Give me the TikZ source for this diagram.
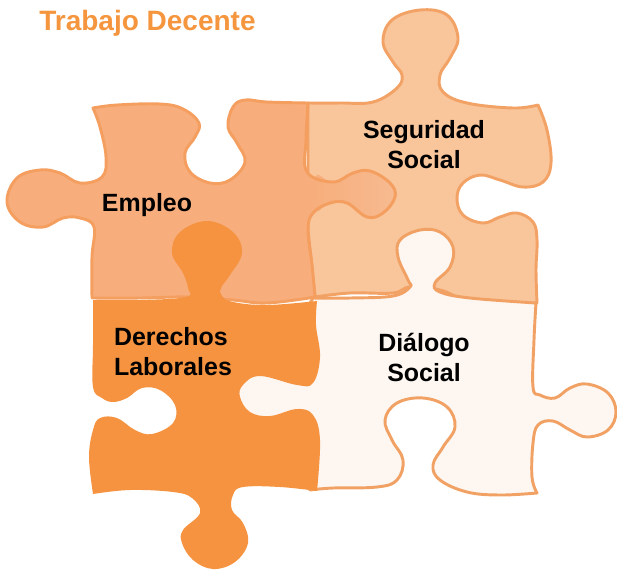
\documentclass[tikz,border=0pt]{standalone}
\usepackage{fontspec}
\setmainfont{Liberation Sans}

\definecolor{tituloorange}{HTML}{F5963F}
\definecolor{empleofill}{HTML}{F7AE7C}
\definecolor{empleotab}{HTML}{F7BA90}
\definecolor{empleoedge}{HTML}{F49E60}
\definecolor{seguridadfill}{HTML}{F9C59B}
\definecolor{seguridadedge}{HTML}{F3A265}
\definecolor{derechosfill}{HTML}{F59340}
\definecolor{dialogofill}{HTML}{FDF6F1}
\definecolor{dialogoedge}{HTML}{F1A164}

% Outlines of the pieces: one smooth run between two sharp corners
\newcommand{\empleopath}{
  plot[smooth,tension=.65] coordinates {(93,108)(117,105)(160,104)(183,109)(199,123)(195,137)(185,153)(190,172)(210,183)(230,180)(245,162)(237,143)(228,127)(233,107)(245,100)(267,102)(308,103)}
  -- plot[smooth,tension=.65] coordinates {(308,103)(306,140)(307,172)(333,182)(353,173)(370,171)(390,183)(395,197)(383,213)(367,217)(347,203)(330,203)(313,213)(308,230)(312,265)(315,297)}
  -- plot[smooth,tension=.65] coordinates {(315,297)(267,303)(233,300)(187,297)(140,298)(92,298)}
  -- plot[smooth,tension=.65] coordinates {(92,298)(92,257)(94,227)(80,218)(63,218)(43,227)(20,222)(7,202)(17,178)(40,170)(60,173)(80,183)(102,177)(106,157)(100,127)(93,108)}
  -- cycle}
\newcommand{\tabpath}{
  plot[smooth cycle,tension=.65] coordinates {(316,176)(333,183)(353,174)(370,172)(389,183)(394,197)(382,212)(367,216)(347,202)(330,202)(316,210)}}

\begin{document}
\begin{tikzpicture}[x=.75pt,y=-.75pt,
  pieceline/.style={line width=2.2pt, line join=round},
  piecelabel/.style={font=\fontsize{18.7}{22.5}\selectfont\bfseries, text=black, align=center, inner sep=0pt},
  titulo/.style={font=\fontsize{21}{25}\selectfont\bfseries, text=tituloorange, inner sep=0pt}
]
\useasboundingbox (0,0) rectangle (617,569);

% Seguridad Social
\draw[pieceline, draw=seguridadedge, fill=seguridadfill]
  plot[smooth,tension=.65] coordinates {(308,103)(340,103)(373,102)(397,88)(402,75)(393,62)(383,42)(392,20)(420,10)(447,15)(458,38)(450,58)(440,75)(443,92)(467,103)(513,108)(538,105)}
  -- plot[smooth,tension=.65] coordinates {(538,105)(547,130)(551,163)(543,182)(523,187)(500,180)(480,175)(463,183)(457,198)(463,215)(483,223)(500,217)(517,213)(533,222)(537,240)(536,270)(537,303)}
  -- plot[smooth,tension=.65] coordinates {(537,303)(513,305)(467,300)(440,290)(410,287)(393,293)(350,293)(315,297)}
  -- (308,230) -- cycle;

% Dialogo Social, the part behind the next pieces is hidden
\draw[pieceline, draw=dialogoedge, fill=dialogofill]
  plot[smooth,tension=.65] coordinates {(313,298)(350,298)(393,296)(410,287)(408,280)(398,257)(400,240)(420,230)(440,232)(453,247)(450,267)(435,283)(440,292)(470,298)(536,303)}
  -- plot[smooth,tension=.65] coordinates {(536,303)(534,340)(533,387)(540,395)(555,398)(570,388)(587,384)(608,393)(616,412)(608,430)(587,437)(570,430)(553,421)(538,425)(533,443)(532,477)(537,493)}
  -- plot[smooth,tension=.65] coordinates {(537,493)(500,495)(467,492)(440,480)(433,465)(443,447)(455,427)(447,407)(423,398)(397,403)(385,420)(392,440)(403,460)(397,480)(377,487)(333,488)(310,490)}
  -- (300,470) -- (230,470) -- (230,320) -- (300,320) -- cycle;

% Empleo with the paler head of its tab
\fill[empleofill] \empleopath;
\shade[left color=empleofill, right color=empleotab] \tabpath;
\draw[pieceline, draw=empleoedge] \empleopath;

% Derechos Laborales
\fill[derechosfill]
  plot[smooth,tension=.65] coordinates {(317,301)(267,305)(233,302)(222,296)(221,288)(230,275)(242,253)(233,232)(207,221)(180,232)(172,253)(183,273)(188,288)(186,297)(140,300)(93,300)}
  -- plot[smooth,tension=.65] coordinates {(93,300)(93,345)(93,387)(102,398)(113,402)(127,398)(142,388)(160,390)(175,405)(173,423)(152,434)(135,430)(117,418)(100,418)(93,430)(89,457)(93,494)}
  -- plot[smooth,tension=.65] coordinates {(93,494)(130,490)(173,492)(192,498)(200,513)(183,530)(182,543)(193,560)(213,569)(235,562)(248,543)(243,523)(232,510)(233,495)(243,487)(280,487)(317,491)}
  -- plot[smooth,tension=.65] coordinates {(317,491)(320,440)(313,415)(297,409)(270,416)(250,412)(240,397)(243,385)(260,376)(297,385)(313,383)(320,357)(316,325)(317,301)}
  -- cycle;

% Titles
\node[titulo] (trabajo) at (147.5,23) {Trabajo Decente};
\node[piecelabel] (empleo) at (147,205) {Empleo};
\node[piecelabel] (seguridad) at (424,145) {Seguridad\\Social};
\node[piecelabel, align=left] (derechos) at (173,352) {Derechos\\Laborales};
\node[piecelabel] (dialogo) at (424,357) {Diálogo\\Social};
\end{tikzpicture}
\end{document}
